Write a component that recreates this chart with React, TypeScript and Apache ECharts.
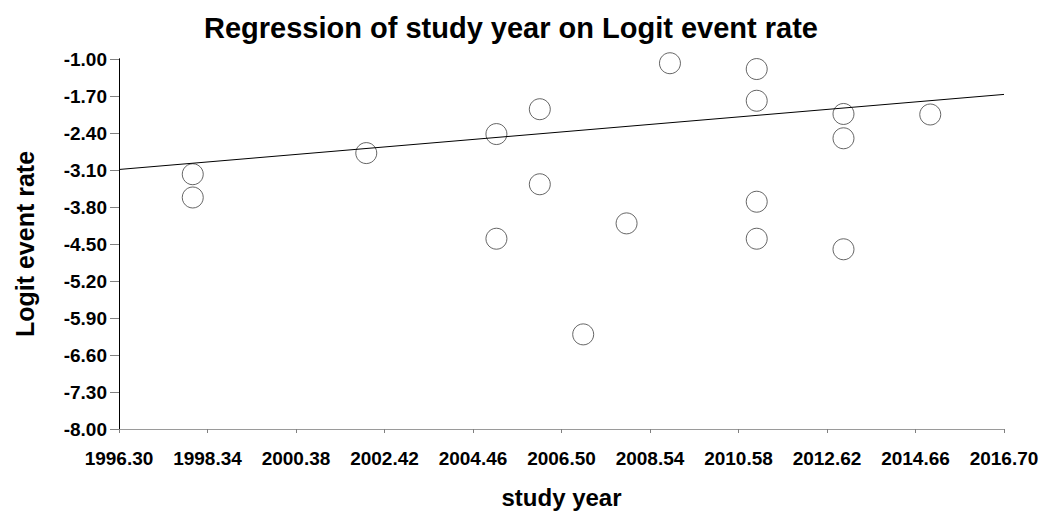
import React, { useEffect, useRef } from "react";
import * as echarts from "echarts";

const TITLE = "Regression of study year on Logit event rate";
const X_NAME = "study year";
const Y_NAME = "Logit event rate";

const X_MIN = 1996.3;
const X_MAX = 2016.7;
const X_STEP = 2.04;
const Y_MIN = -8.0;
const Y_MAX = -1.0;
const Y_STEP = 0.7;

const studyYears = [1998, 1998, 2002, 2005, 2005, 2006, 2006, 2007, 2008, 2009, 2011, 2011, 2011, 2011, 2013, 2013, 2013, 2015];
const logitRates = [-3.18, -3.62, -2.78, -2.42, -4.4, -1.95, -3.37, -6.21, -4.11, -1.08, -1.19, -1.79, -3.7, -4.4, -2.04, -2.5, -4.6, -2.05];

const fitYears = [1996.3, 2016.7];
const fitRates = [-3.09, -1.67];

const FONT = "'Liberation Sans', Arial, sans-serif";

export default function App() {
  const ref = useRef<HTMLDivElement>(null);
  useEffect(() => {
    document.body.style.margin = "0";
    if (!ref.current) return;
    const chart = echarts.init(ref.current, null, { renderer: "svg" });
    const tx = (v: number) => v - X_MIN;
    const ty = (v: number) => v - Y_MIN;
    const points = studyYears.map((yr, i) => [tx(yr), ty(logitRates[i])]);
    const fit = fitYears.map((yr, i) => [tx(yr), ty(fitRates[i])]);
    const xSpan = +(X_MAX - X_MIN).toFixed(4);
    const ySpan = +(Y_MAX - Y_MIN).toFixed(4);
    chart.setOption({
      animation: false,
      backgroundColor: "#ffffff",
      textStyle: { fontFamily: FONT },
      graphic: [
        {
          type: "text",
          x: 511,
          y: 28,
          style: {
            text: TITLE,
            fontFamily: FONT,
            fontWeight: "bold",
            fontSize: 29,
            fill: "#000",
            textAlign: "center",
            textVerticalAlign: "middle",
          },
        },
      ],
      grid: { left: 119, right: 42, top: 59, bottom: 85, containLabel: false },
      xAxis: [
        {
          type: "value",
          min: 0,
          max: xSpan,
          interval: X_STEP,
          name: X_NAME,
          nameLocation: "middle",
          nameGap: 56,
          nameTextStyle: { fontFamily: FONT, fontWeight: "bold", fontSize: 24, color: "#000" },
          axisLine: { show: true, lineStyle: { color: "#808080", width: 1 } },
          axisTick: { show: true, inside: false, length: 4, lineStyle: { color: "#808080" } },
          axisLabel: {
            margin: 20,
            fontFamily: FONT,
            fontWeight: "bold",
            fontSize: 19,
            color: "#000",
            formatter: (v: number) => (v + X_MIN).toFixed(2),
          },
          splitLine: { show: false },
        },
        {
          type: "value",
          position: "top",
          min: 0,
          max: xSpan,
          axisLine: { show: true, lineStyle: { color: "#9a9a9a", width: 1 } },
          axisTick: { show: false },
          axisLabel: { show: false },
          splitLine: { show: false },
        },
      ],
      yAxis: [
        {
          type: "value",
          min: 0,
          max: ySpan,
          interval: Y_STEP,
          name: Y_NAME,
          nameLocation: "middle",
          nameGap: 82,
          nameTextStyle: { fontFamily: FONT, fontWeight: "bold", fontSize: 25, color: "#000" },
          axisLine: { show: true, lineStyle: { color: "#000", width: 1 } },
          axisTick: { show: true, inside: false, length: 9, lineStyle: { color: "#808080" } },
          axisLabel: {
            margin: 12,
            fontFamily: FONT,
            fontWeight: "bold",
            fontSize: 19,
            color: "#000",
            formatter: (v: number) => (v + Y_MIN).toFixed(2),
          },
          splitLine: { show: false },
        },
        {
          type: "value",
          position: "right",
          min: 0,
          max: ySpan,
          axisLine: { show: true, lineStyle: { color: "#000", width: 1 } },
          axisTick: { show: false },
          axisLabel: { show: false },
          splitLine: { show: false },
        },
      ],
      series: [
        {
          type: "scatter",
          xAxisIndex: 0,
          yAxisIndex: 0,
          data: points,
          symbol: "circle",
          symbolSize: 21,
          itemStyle: { color: "rgba(0,0,0,0)", borderColor: "#404040", borderWidth: 1 },
          z: 2,
        },
        {
          type: "line",
          xAxisIndex: 0,
          yAxisIndex: 0,
          data: fit,
          showSymbol: false,
          symbol: "none",
          lineStyle: { color: "#000", width: 1 },
          z: 3,
        },
      ],
    });
    return () => chart.dispose();
  }, []);
  return <div ref={ref} style={{ width: 1046, height: 514 }} />;
}
